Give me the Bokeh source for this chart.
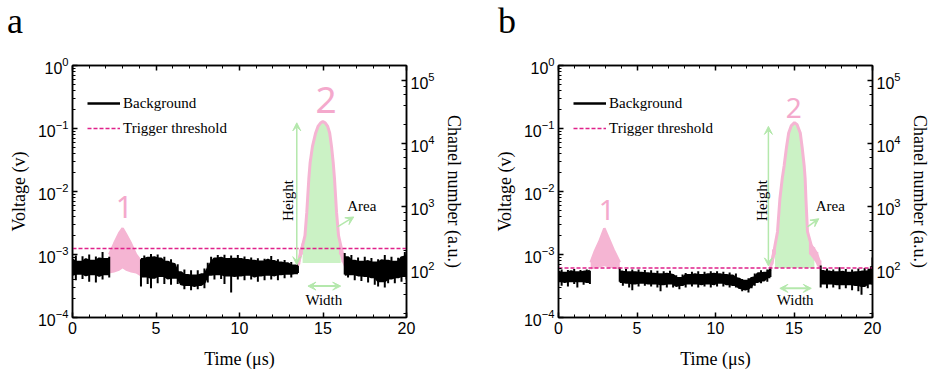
import numpy as np
from math import pi
from bokeh.plotting import figure
from bokeh.models import (LogAxis, LinearAxis, Range1d, LogScale, SingleIntervalTicker,
                          Arrow, VeeHead, Label, Legend, LegendItem, Div)
from bokeh.layouts import row, column
from bokeh.embed import file_html
from bokeh.resources import INLINE

# ---------------- data ----------------
time_range = [0, 20]
voltage_range = [1e-4, 1.0]
channel_range = [10 ** 1.235, 10 ** 5.235]
x_tick_labels = {0: "", 5: "", 10: "", 15: "", 20: ""}
E4 = 1e-4  # background envelopes below are given in units of 1e-4 V

# panel a - background noise envelopes (upper / lower), three segments
bg_a1_t = [0.0, 0.2, 0.4, 0.6, 0.8, 1.0, 1.2, 1.4, 1.6, 1.8, 2.0, 2.2]
bg_a1_hi = [8.2, 9.6, 7.6, 9.4, 8.4, 10.0, 7.9, 9.3, 8.6, 11.0, 8.4, 9.2]
bg_a1_lo = [4.8, 3.9, 5.0, 4.1, 4.7, 3.7, 4.9, 3.6, 4.6, 4.0, 4.9, 4.3]
bg_a2_t = [4.1, 4.3, 4.5, 4.7, 4.9, 5.1, 5.3, 5.5, 5.7, 5.9, 6.1, 6.3, 6.5, 6.7, 6.9, 7.1,
           7.3, 7.5, 7.7, 7.9, 8.1, 8.3, 8.5, 8.7, 8.9, 9.1, 9.3, 9.5, 9.7, 9.9, 10.1, 10.3,
           10.5, 10.7, 10.9, 11.1, 11.3, 11.5, 11.7, 11.9, 12.1, 12.3, 12.5, 12.7, 12.9,
           13.1, 13.3, 13.5]
bg_a2_hi = [8.4, 9.6, 8.8, 10.2, 9.0, 10.0, 8.6, 9.2, 7.6, 8.4, 7.2, 7.0, 5.2, 5.8, 4.7, 5.6,
            4.6, 5.6, 4.8, 6.0, 7.4, 9.2, 8.6, 9.8, 8.8, 9.9, 8.4, 9.6, 8.5, 9.8, 8.4, 9.3,
            8.1, 9.0, 7.9, 8.7, 7.7, 8.6, 8.2, 9.5, 7.8, 8.4, 7.4, 8.2, 7.2, 7.6, 6.6, 6.6]
bg_a2_lo = [3.1, 4.5, 3.4, 2.9, 4.3, 3.5, 4.6, 3.4, 4.2, 3.3, 4.3, 3.4, 3.3, 2.8, 3.3, 2.7,
            3.2, 2.8, 3.3, 2.9, 3.6, 4.8, 4.0, 4.9, 4.1, 3.4, 4.7, 2.5, 4.6, 4.0, 4.7, 3.9,
            4.8, 4.0, 4.5, 3.7, 4.7, 3.9, 4.8, 4.0, 4.7, 3.9, 4.9, 4.2, 5.0, 4.3, 5.0, 5.1]
bg_a3_t = [16.3, 16.5, 16.7, 16.9, 17.1, 17.3, 17.5, 17.7, 17.9, 18.1, 18.3, 18.5, 18.7,
           18.9, 19.1, 19.3, 19.5, 19.7, 19.9, 20.0]
bg_a3_hi = [10.6, 9.0, 9.8, 7.9, 9.0, 7.6, 9.2, 7.8, 8.8, 7.4, 8.4, 8.0, 9.8, 7.9, 9.2, 7.6,
            8.9, 9.2, 11.0, 9.8]
bg_a3_lo = [4.8, 4.3, 4.9, 3.9, 4.7, 3.8, 4.6, 3.6, 4.4, 3.3, 3.1, 3.8, 3.0, 3.5, 4.2, 3.5,
            4.4, 3.7, 4.6, 4.0]

# panel b - background noise envelopes
bg_b1_t = [0.0, 0.2, 0.4, 0.6, 0.8, 1.0, 1.2, 1.4, 1.6, 1.8, 2.0]
bg_b1_hi = [5.3, 5.8, 5.1, 5.7, 5.4, 5.9, 5.2, 5.7, 5.3, 5.8, 5.5]
bg_b1_lo = [3.8, 3.2, 3.7, 3.1, 3.8, 3.4, 3.0, 3.8, 3.3, 3.7, 3.4]
bg_b2_t = [3.9, 4.1, 4.3, 4.5, 4.7, 4.9, 5.1, 5.3, 5.5, 5.7, 5.9, 6.1, 6.3, 6.5, 6.7, 6.9,
           7.1, 7.3, 7.5, 7.7, 7.9, 8.1, 8.3, 8.5, 8.7, 8.9, 9.1, 9.3, 9.5, 9.7, 9.9, 10.1,
           10.3, 10.5, 10.7, 10.9, 11.1, 11.3, 11.5, 11.7, 11.9, 12.1, 12.3, 12.5, 12.7,
           12.9, 13.1, 13.3, 13.5]
bg_b2_hi = [6.2, 5.3, 5.9, 5.2, 5.8, 5.2, 5.8, 5.1, 5.7, 5.0, 5.6, 4.9, 5.5, 4.8, 5.4, 4.9,
            5.5, 4.8, 4.7, 4.2, 4.8, 5.1, 4.7, 5.3, 4.8, 5.4, 4.7, 5.3, 4.8, 5.4, 4.9, 5.4,
            4.8, 5.3, 4.7, 5.2, 4.6, 5.0, 4.2, 4.1, 3.8, 4.2, 4.3, 5.0, 5.0, 5.6, 5.1, 5.8, 6.2]
bg_b2_lo = [3.7, 3.2, 3.6, 3.0, 2.7, 3.5, 3.1, 3.6, 3.2, 3.5, 3.1, 3.5, 3.0, 2.6, 3.4, 3.0,
            3.5, 3.0, 3.2, 2.8, 3.3, 3.0, 3.5, 3.1, 3.5, 3.0, 3.4, 3.1, 3.5, 3.0, 3.4, 3.1,
            3.6, 3.1, 3.4, 3.0, 3.3, 3.0, 2.9, 2.6, 2.8, 2.5, 2.9, 3.2, 3.7, 3.5, 3.9, 3.7, 4.4]
bg_b3_t = [16.7, 16.9, 17.1, 17.3, 17.5, 17.7, 17.9, 18.1, 18.3, 18.5, 18.7, 18.9, 19.1,
           19.3, 19.5, 19.7, 19.9, 20.0]
bg_b3_hi = [6.7, 5.4, 6.0, 5.3, 5.8, 5.2, 6.3, 5.3, 5.9, 5.1, 5.8, 5.2, 6.0, 5.3, 6.1, 5.4,
            6.5, 9.0]
bg_b3_lo = [3.0, 3.5, 2.9, 3.5, 3.0, 3.4, 2.8, 3.4, 2.9, 3.4, 2.7, 3.3, 2.6, 2.3, 3.2, 2.9,
            3.5, 3.3]

# pulse 1 (pink band)
p1_a_t = [2.2, 2.5, 2.8, 3.0, 3.2, 3.5, 3.8, 4.07]
p1_a_hi = [1.0e-3, 1.5e-3, 2.2e-3, 2.6e-3, 2.1e-3, 1.5e-3, 1.0e-3, 8.0e-4]
p1_a_lo = [5.0e-4, 5.2e-4, 5.5e-4, 6.0e-4, 5.5e-4, 5.2e-4, 5.0e-4, 4.5e-4]
p1_b_t = [2.05, 2.3, 2.6, 2.92, 3.2, 3.5, 3.9]
p1_b_hi = [7.5e-4, 1.1e-3, 1.6e-3, 2.6e-3, 1.8e-3, 1.2e-3, 7.5e-4]
p1_b_lo = [5.8e-4, 6.0e-4, 6.2e-4, 6.5e-4, 6.2e-4, 6.0e-4, 5.8e-4]

# pulse 2 (pink curve)
p2_a_t = [13.45, 13.6, 13.78, 13.92, 14.03, 14.15, 14.23, 14.37, 14.56, 14.7, 14.85, 14.99,
          15.13, 15.28, 15.4, 15.51, 15.61, 15.69, 15.81, 15.93, 16.06, 16.18, 16.3]
p2_a_v = [6.2e-4, 8.5e-4, 1.4e-3, 2.0e-3, 4.7e-3, 0.0158, 0.029, 0.052, 0.085, 0.108, 0.122,
          0.129, 0.123, 0.108, 0.085, 0.052, 0.029, 0.0158, 4.7e-3, 2.0e-3, 1.4e-3, 1.0e-3,
          7.5e-4]
p2_b_t = [13.5, 13.65, 13.79, 13.95, 14.1, 14.25, 14.37, 14.52, 14.66, 14.82, 15.03, 15.2,
          15.4, 15.52, 15.65, 15.71, 15.76, 15.86, 16.1, 16.3, 16.5, 16.7]
p2_b_v = [6.2e-4, 8.5e-4, 1.4e-3, 2.3e-3, 7.6e-3, 0.016, 0.0254, 0.05, 0.085, 0.11, 0.124,
          0.115, 0.085, 0.05, 0.0254, 0.016, 7.6e-3, 2.3e-3, 1.4e-3, 1.1e-3, 8.5e-4, 6.2e-4]

# noisy pink feet of pulse 2 (upper / lower)
foot_a_t = [[13.45, 13.6, 13.75], [16.0, 16.15, 16.3]]
foot_a_hi = [[7.5e-4, 1.2e-3, 1.5e-3], [1.5e-3, 1.2e-3, 9.0e-4]]
foot_a_lo = [[5.8e-4, 7.0e-4, 1.0e-3], [1.0e-3, 7.5e-4, 6.0e-4]]
foot_b_t = [[13.5, 13.65, 13.8], [16.0, 16.3, 16.5, 16.7]]
foot_b_hi = [[8.0e-4, 1.2e-3, 1.5e-3], [1.6e-3, 1.3e-3, 1.1e-3, 8.0e-4]]
foot_b_lo = [[6.0e-4, 7.0e-4, 1.0e-3], [1.0e-3, 8.0e-4, 6.5e-4, 5.5e-4]]

# trigger thresholds and area-fill base
threshold_a = 1.25e-3
threshold_b = 6.1e-4
fill_a = dict(start=13.75, end=16.07, base=7.3e-4)
fill_b = dict(start=13.75, end=16.3, base=6.1e-4)

# ---------------- styles ----------------
BLACK = "black"
PINK = "#f5b5d3"
PINK_TXT = "#f4a9cc"
MAGENTA = "#e0218a"
GREEN_FILL = "#cbf2c5"
GREEN = "#b4e8ac"
SERIF = "Liberation Serif"
SANS = "Liberation Sans"
PANEL_W = 466
LETTER_H = 40
PLOT_H = 371 - LETTER_H


def style_axis(ax):
    ax.axis_line_color = "black"
    ax.axis_line_width = 1.5
    ax.major_tick_line_color = "black"
    ax.minor_tick_line_color = "black"
    ax.major_tick_line_width = 1.5
    ax.minor_tick_line_width = 1
    ax.major_tick_in = 5
    ax.major_tick_out = 0
    ax.minor_tick_in = 3
    ax.minor_tick_out = 0
    ax.major_label_text_font = SANS
    ax.major_label_text_font_size = "16px"
    ax.major_label_text_color = "black"
    ax.major_label_standoff = 4
    ax.axis_label_text_font = SERIF
    ax.axis_label_text_font_size = "18px"
    ax.axis_label_text_font_style = "normal"
    ax.axis_label_text_color = "black"


def neighbour_core(hi, lo):
    """Solid core of the noise band: the band both neighbouring samples share."""
    hi = np.asarray(hi); lo = np.asarray(lo)
    hp = np.concatenate([hi[:1], hi, hi[-1:]])
    lp = np.concatenate([lo[:1], lo, lo[-1:]])
    core_hi = np.minimum(np.minimum(hp[:-2], hp[1:-1]), hp[2:])
    core_lo = np.maximum(np.maximum(lp[:-2], lp[1:-1]), lp[2:])
    return core_hi, core_lo


def letter_strip(letter, x_px):
    """Thin strip above a panel that carries the panel letter."""
    html = ('<div style="font-family:\'Liberation Serif\',serif;font-size:36px;'
            'line-height:36px;color:black;margin:0;padding:3px 0 0 %dpx;">%s</div>'
            % (x_px, letter))
    return Div(text=html, width=PANEL_W, height=LETTER_H, margin=(0, 0, 0, 0))


def make_panel(left_border, bg, p1, p2, feet, fill, thr, ann):
    p = figure(width=PANEL_W, height=PLOT_H, x_range=Range1d(*time_range),
               y_range=Range1d(*voltage_range), y_axis_type="log",
               output_backend="svg", toolbar_location=None,
               min_border_left=left_border, min_border_right=52,
               min_border_top=65 - LETTER_H, min_border_bottom=51,
               background_fill_color="white", border_fill_color="white",
               margin=(0, 0, 0, 0))
    p.xgrid.visible = False
    p.ygrid.visible = False
    p.outline_line_color = "black"
    p.outline_line_width = 1.5

    xax = p.xaxis[0]
    yax = p.yaxis[0]
    xax.ticker = SingleIntervalTicker(interval=5, num_minor_ticks=5)
    xax.axis_label = "Time (μs)"
    xax.axis_label_standoff = 12
    yax.axis_label = "Voltage (v)"
    yax.axis_label_standoff = 6

    p.extra_y_ranges = {"ch": Range1d(*channel_range)}
    p.extra_y_scales = {"ch": LogScale()}
    rax = LogAxis(y_range_name="ch", axis_label="Chanel number (a.u.)")
    rax.axis_label_standoff = 6
    p.add_layout(rax, "right")

    # mirrored top axis (ticks only)
    tax = LinearAxis(ticker=SingleIntervalTicker(interval=5, num_minor_ticks=5),
                     major_label_overrides=x_tick_labels)
    p.add_layout(tax, "above")
    for ax in (xax, yax, rax, tax):
        style_axis(ax)
    tax.major_label_text_font_size = "0px"
    tax.major_label_standoff = 0

    # pulse 2 area fill
    t2 = np.array(p2[0]); v2 = np.array(p2[1])
    m = (t2 >= fill["start"]) & (t2 <= fill["end"])
    p.varea(x=t2[m], y1=fill["base"], y2=v2[m], fill_color=GREEN_FILL, fill_alpha=1)

    # pulse 1 band
    p.varea(x=p1[0], y1=p1[2], y2=p1[1], fill_color=PINK, fill_alpha=1)
    p.line(x=p1[0], y=p1[1], line_color=PINK, line_width=2.5)
    # noisy feet + pulse 2 curve
    for ft, fh, fl in zip(*feet):
        p.varea(x=ft, y1=fl, y2=fh, fill_color=PINK, fill_alpha=1)
        p.segment(x0=ft, y0=fl, x1=ft, y1=fh, line_color=PINK, line_width=1.5)
    p.line(x=p2[0], y=p2[1], line_color=PINK, line_width=3)

    # background noise: solid core + one spike per sample
    bg_renderers = []
    for t, hi, lo in bg:
        hi_v = np.array(hi) * E4
        lo_v = np.array(lo) * E4
        core_hi, core_lo = neighbour_core(hi_v, lo_v)
        p.varea(x=t, y1=core_lo, y2=core_hi, fill_color=BLACK)
        p.segment(x0=t, y0=lo_v, x1=t, y1=hi_v, line_color=BLACK, line_width=2)
        r = p.line(x=t, y=core_hi, line_color=BLACK, line_width=2.5)
        p.line(x=t, y=core_lo, line_color=BLACK, line_width=2.5)
        bg_renderers.append(r)

    # trigger threshold
    thr_r = p.line(x=time_range, y=[thr, thr], line_color=MAGENTA, line_width=1.5,
                   line_dash="4 2")

    legend = Legend(items=[LegendItem(label="Background", renderers=[bg_renderers[0]]),
                           LegendItem(label="Trigger threshold", renderers=[thr_r])],
                    location=(15, 179), padding=0, margin=0, spacing=5,
                    glyph_width=33, glyph_height=20, label_height=20, label_standoff=3,
                    label_text_font=SERIF, label_text_font_size="15px",
                    label_text_color="black",
                    border_line_color=None, background_fill_alpha=0)
    p.add_layout(legend)

    # annotations: arrows
    head = dict(size=8, line_color=GREEN, fill_color=GREEN, line_width=1)
    p.add_layout(Arrow(x_start=ann["h_x"], y_start=ann["h_y0"], x_end=ann["h_x"],
                       y_end=ann["h_y1"], start=VeeHead(**head), end=VeeHead(**head),
                       line_color=GREEN, line_width=1.5))
    p.add_layout(Arrow(x_start=ann["w_x0"], y_start=ann["w_y"], x_end=ann["w_x1"],
                       y_end=ann["w_y"], start=VeeHead(**head), end=VeeHead(**head),
                       line_color=GREEN, line_width=2))
    p.add_layout(Arrow(x_start=ann["a_x0"], y_start=ann["a_y0"], x_end=ann["a_x1"],
                       y_end=ann["a_y1"], end=VeeHead(**head),
                       line_color=GREEN, line_width=1.5))

    txt = dict(text_font=SERIF, text_font_size="15px", text_color="black")
    p.add_layout(Label(x=ann["ht_x"], y=ann["ht_y"], text="Height", angle=pi / 2,
                       text_align="center", text_baseline="middle", **txt))
    p.add_layout(Label(x=ann["at_x"], y=ann["at_y"], text="Area",
                       text_align="left", text_baseline="middle", **txt))
    p.add_layout(Label(x=ann["wt_x"], y=ann["wt_y"], text="Width",
                       text_align="center", text_baseline="middle", **txt))
    # hand-written pulse numbers
    p.add_layout(Label(x=ann["n1_x"], y=ann["n1_y"], text="1", text_align="center",
                       text_baseline="middle", text_font="Noto Sans",
                       text_font_size=ann["n1_s"], text_color=PINK_TXT))
    p.add_layout(Label(x=ann["n2_x"], y=ann["n2_y"], text="2", text_align="center",
                       text_baseline="middle", text_font="Noto Sans",
                       text_font_size=ann["n2_s"], text_color=PINK_TXT))
    return p


ann_a = dict(h_x=13.43, h_y0=6.9e-4, h_y1=0.123, ht_x=12.9, ht_y=7.2e-3,
             w_x0=14.1, w_x1=16.06, w_y=3.15e-4, wt_x=15.05, wt_y=1.87e-4,
             a_x0=15.87, a_y0=2.74e-3, a_x1=16.84, a_y1=3.94e-3, at_x=16.45, at_y=5.8e-3,
             n1_x=3.1, n1_y=5.7e-3, n1_s="30px", n2_x=15.18, n2_y=0.28, n2_s="37px")
ann_b = dict(h_x=13.37, h_y0=6.6e-4, h_y1=0.108, ht_x=12.96, ht_y=7.2e-3,
             w_x0=14.1, w_x1=16.1, w_y=2.9e-4, wt_x=15.07, wt_y=1.87e-4,
             a_x0=15.86, a_y0=2.74e-3, a_x1=16.58, a_y1=3.7e-3, at_x=16.38, at_y=5.9e-3,
             n1_x=3.08, n1_y=5.0e-3, n1_s="28px", n2_x=14.99, n2_y=0.21, n2_s="28px")

pa = make_panel(72,
                [(bg_a1_t, bg_a1_hi, bg_a1_lo), (bg_a2_t, bg_a2_hi, bg_a2_lo),
                 (bg_a3_t, bg_a3_hi, bg_a3_lo)],
                (p1_a_t, p1_a_hi, p1_a_lo), (p2_a_t, p2_a_v),
                (foot_a_t, foot_a_hi, foot_a_lo), fill_a, threshold_a, ann_a)
pb = make_panel(92,
                [(bg_b1_t, bg_b1_hi, bg_b1_lo), (bg_b2_t, bg_b2_hi, bg_b2_lo),
                 (bg_b3_t, bg_b3_hi, bg_b3_lo)],
                (p1_b_t, p1_b_hi, p1_b_lo), (p2_b_t, p2_b_v),
                (foot_b_t, foot_b_hi, foot_b_lo), fill_b, threshold_b, ann_b)

layout = row(column(letter_strip("a", 7), pa, spacing=0),
             column(letter_strip("b", 32), pb, spacing=0), spacing=0)
open("out.html", "w").write(file_html(layout, INLINE))
